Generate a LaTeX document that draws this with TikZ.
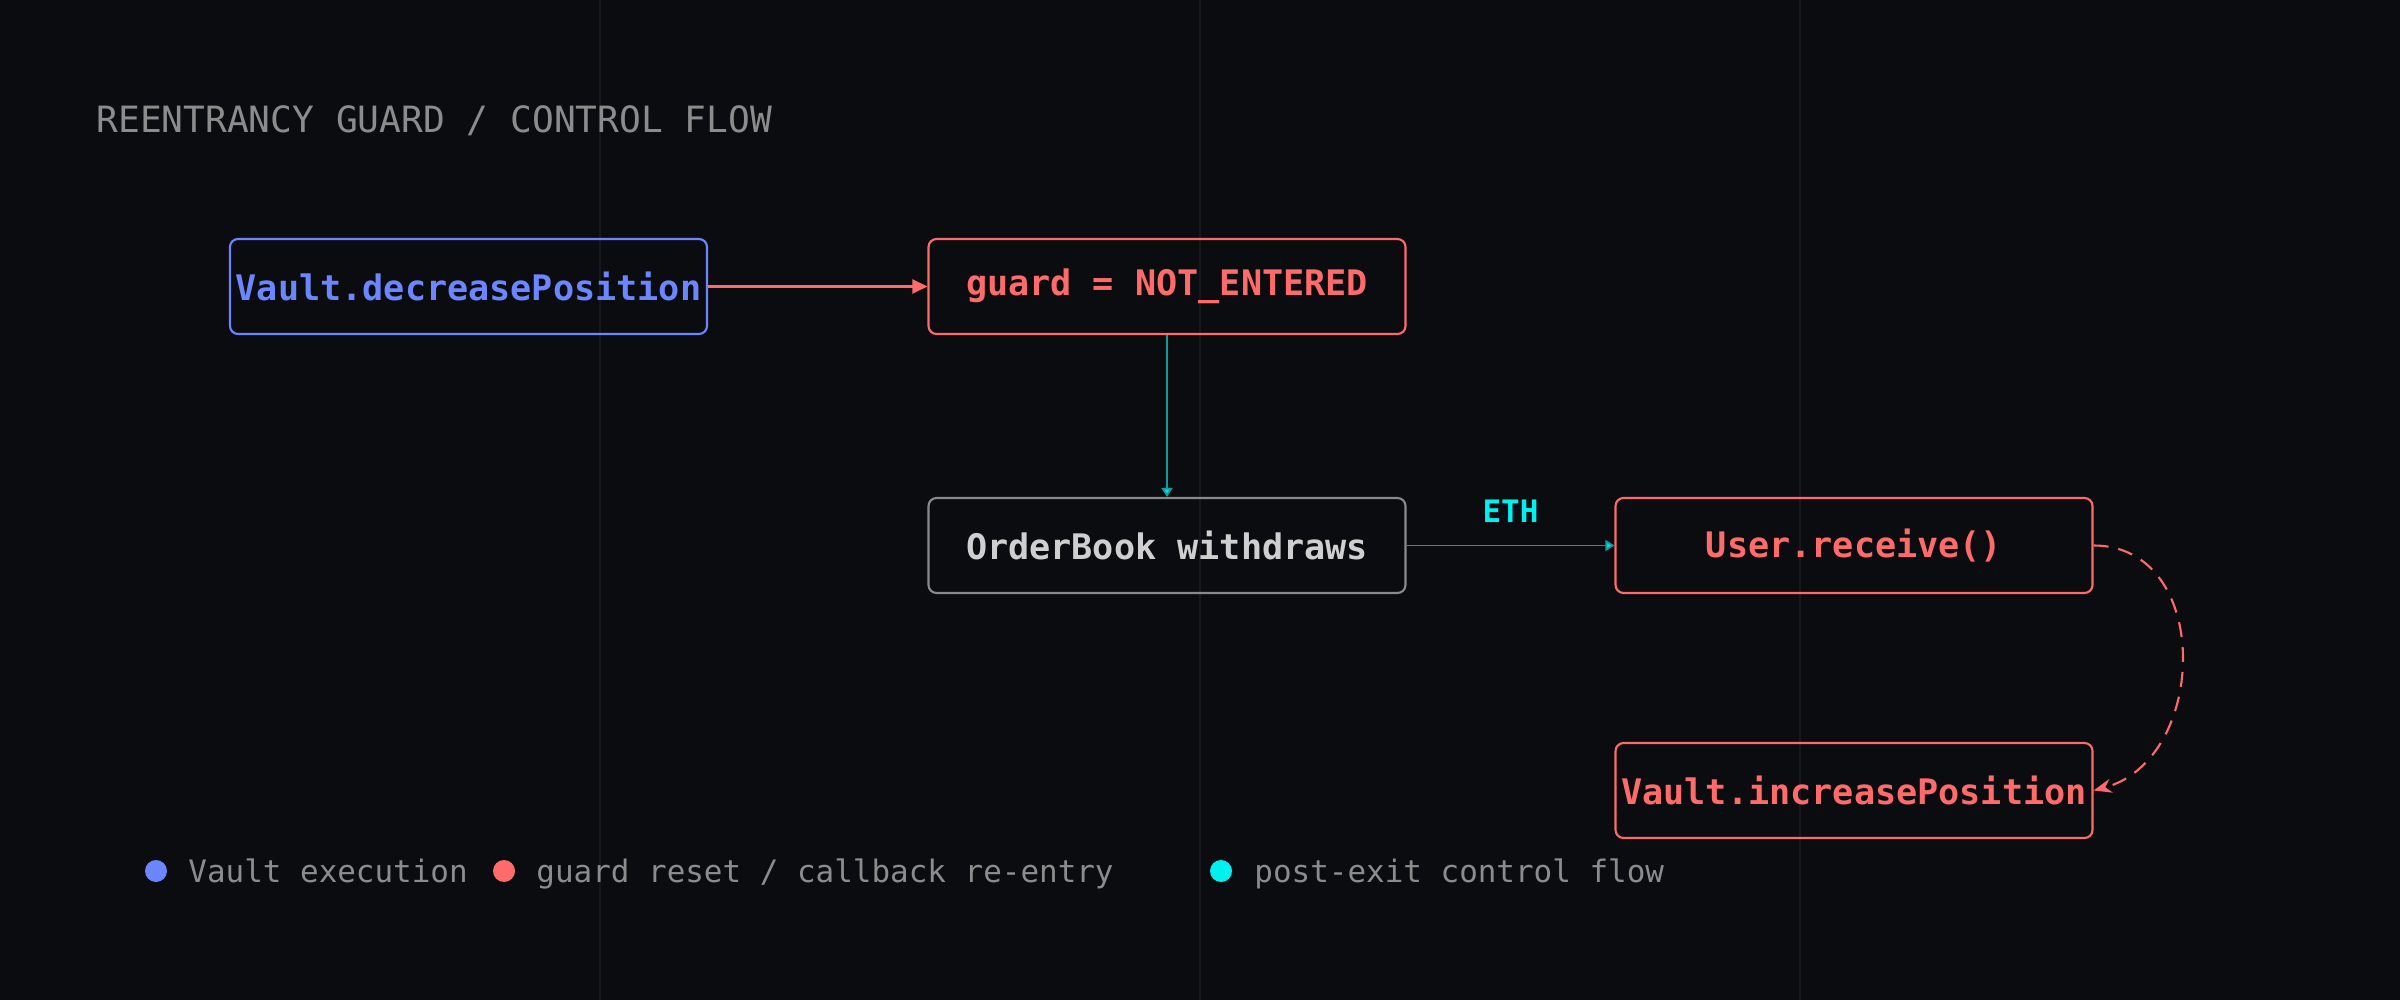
\documentclass[tikz,border=0pt]{standalone}
\usepackage{fontspec}
\setmonofont{DejaVu Sans Mono}
\usetikzlibrary{arrows.meta}
\definecolor{bg}{HTML}{0B0C10}
\definecolor{gridline}{HTML}{16171C}
\definecolor{vaultblue}{HTML}{6B86FF}
\definecolor{guardred}{HTML}{FF6B6B}
\definecolor{flowteal}{HTML}{139A9C}
\definecolor{flowcyan}{HTML}{00F0F0}
\definecolor{boxgray}{HTML}{8A8A8A}
\definecolor{textgray}{HTML}{CFCFCF}
\definecolor{labelgray}{HTML}{8C8C8C}
\begin{document}
\begin{tikzpicture}[line join=round,
  box/.style={draw, rounded corners=0.8mm, line width=0.6pt, minimum width=4.77cm,
    minimum height=0.95cm, inner sep=0pt, font=\ttfamily\bfseries\fontsize{10}{12}\selectfont},
  legend/.style={anchor=base west, text=labelgray, font=\ttfamily\fontsize{8.8}{10}\selectfont}]
\fill[bg] (0,0) rectangle (24,-10);
\useasboundingbox (0,0) rectangle (24,-10);
\foreach \x in {6,12,18} \draw[gridline, line width=0.4pt] (\x,0)--(\x,-10);
\node[anchor=base west, text=labelgray, font=\ttfamily\fontsize{10.3}{12}\selectfont] (title) at (0.84,-1.33) {REENTRANCY GUARD / CONTROL FLOW};
% boxes
\node[box, vaultblue] (decrease) at (4.685,-2.865) {Vault.decreasePosition};
\node[box, guardred] (guard) at (11.67,-2.865) {guard = NOT\_ENTERED};
\node[box, boxgray, text=textgray] (withdraw) at (11.67,-5.455) {OrderBook withdraws};
\node[box, guardred] (receive) at (18.54,-5.455) {User.receive()};
\node[box, guardred] (increase) at (18.54,-7.905) {Vault.increasePosition};
% connectors
\draw[guardred, line width=0.6pt, -{Triangle[length=1.5mm,width=1.4mm]}] (decrease) -- (guard);
\draw[flowteal, line width=0.5pt, -{Triangle[length=0.9mm,width=1.1mm,fill=flowcyan!80!flowteal]}] (guard) -- (withdraw);
\draw[flowteal, line width=0.5pt, -{Triangle[length=0.9mm,width=1.1mm,fill=flowcyan!80!flowteal]}] (withdraw) -- node[above=2.2mm, inner sep=0pt, text=flowcyan, font=\ttfamily\bfseries\fontsize{8.8}{10}\selectfont] (eth) {ETH} (receive);
\draw[guardred, line width=0.6pt, dash pattern=on 1.5mm off 1mm, -{Stealth[length=1.8mm,width=1.4mm]}] (receive.east) to[out=0, in=15, looseness=1.25] (increase.east);
% legend
\fill[vaultblue] (1.56,-8.71) circle (1.1mm);
\node[legend] (vaultkey) at (1.76,-8.82) {Vault execution};
\fill[guardred] (5.04,-8.71) circle (1.1mm);
\node[legend] (guardkey) at (5.24,-8.82) {guard reset / callback re-entry};
\fill[flowcyan] (12.21,-8.71) circle (1.1mm);
\node[legend] (flowkey) at (12.42,-8.82) {post-exit control flow};
\end{tikzpicture}
\end{document}
